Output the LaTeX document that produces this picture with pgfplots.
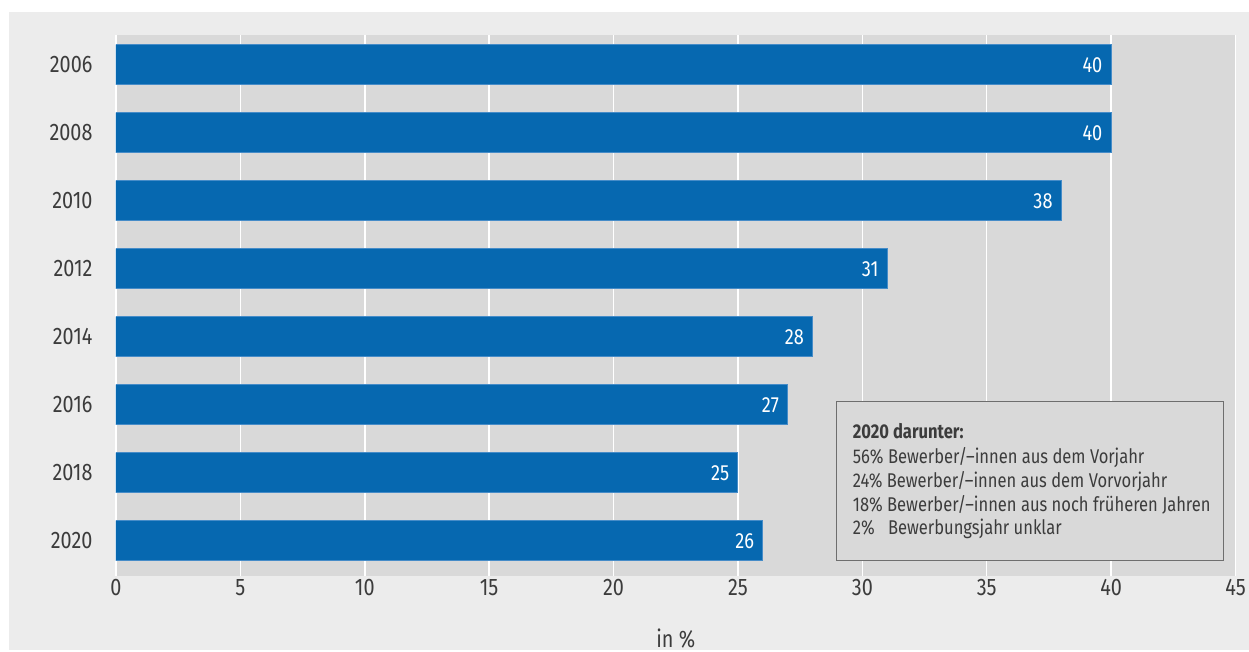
\documentclass[border=0pt]{standalone}
\usepackage{fontspec}
\setmainfont{Fira Sans}[FakeStretch=0.83]
\usepackage{pgfplots}
\pgfplotsset{compat=1.18}
\definecolor{barblue}{RGB}{6,104,176}
\definecolor{baredge}{RGB}{70,140,200}
\definecolor{outerbg}{RGB}{236,236,236}
\definecolor{plotbg}{RGB}{217,217,217}
\definecolor{txt}{RGB}{60,60,60}
\definecolor{boxedge}{RGB}{110,110,110}
\begin{document}
\begin{tikzpicture}[x=1bp,y=1bp]
\fill[white] (0,0) rectangle (1249,650);
\fill[outerbg] (9,0) rectangle (1249,638);
\begin{axis}[
  at={(116bp,74bp)}, anchor=south west,
  scale only axis, width=1120bp, height=541bp,
  xbar, bar width=40bp,
  xmin=0, xmax=45, ymin=-0.44, ymax=7.515, y dir=reverse,
  ytick={0,1,2,3,4,5,6,7},
  yticklabels={2006,2008,2010,2012,2014,2016,2018,2020},
  xtick={0,5,...,45},
  /pgf/number format/assume math mode=true,
  axis background/.style={fill=plotbg},
  axis line style={draw=none},
  major tick length=0pt,
  xmajorgrids, grid style={white, line width=1.5bp},
  ticklabel style={font=\fontsize{24}{28}\selectfont, text=txt},
  yticklabel style={xshift=-20bp},
  nodes near coords,
  every node near coord/.append style={anchor=east, text=white, font=\fontsize{22}{26}\selectfont, xshift=-5bp},
]
\addplot[fill=barblue, draw=baredge, line width=1bp] coordinates {(40,0) (40,1) (38,2) (31,3) (28,4) (27,5) (25,6) (26,7)};
\end{axis}
\node[anchor=base, text=txt, font=\fontsize{24}{28}\selectfont] at (676,2) {in \%};
\draw[fill=plotbg, draw=boxedge, line width=1bp] (837,89) rectangle (1224,248);
\begin{scope}[every node/.style={anchor=base west, inner sep=0pt, text=txt, font=\fontsize{20}{24}\selectfont}]
\node at (853,211) {\textbf{2020 darunter:}};
\node at (853,186) {56\% Bewerber/–innen aus dem Vorjahr};
\node at (853,162) {24\% Bewerber/–innen aus dem Vorvorjahr};
\node at (853,138) {18\% Bewerber/–innen aus noch früheren Jahren};
\node at (853,115) {\rlap{2\%}\phantom{56\%} Bewerbungsjahr unklar};
\end{scope}
\end{tikzpicture}
\end{document}
